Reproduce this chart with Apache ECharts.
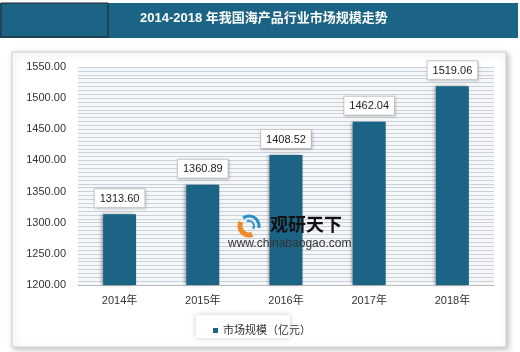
<!DOCTYPE html>
<html><head><meta charset="utf-8">
<script src="https://cdn.jsdelivr.net/npm/echarts@6/dist/echarts.min.js"></script>
<style>html,body{margin:0;padding:0;background:#fff}#c{width:520px;height:352px}</style>
</head><body><div id="c"></div>
<script>
var categories = ['2014年','2015年','2016年','2017年','2018年'];
var values = [1313.60, 1360.89, 1408.52, 1462.04, 1519.06];
var seriesName = '市场规模（亿元）';
var titleText = '2014-2018 年我国海产品行业市场规模走势';

var chart = echarts.init(document.getElementById('c'));
var font = '"Liberation Sans", "Noto Sans CJK SC", sans-serif';
chart.setOption({
  animation: false,
  backgroundColor: '#fff',
  graphic: [
    {type:'rect', shape:{x:0,y:3,width:518,height:35}, style:{fill:'#1b6485'}, z:0},
    {type:'rect', shape:{x:1,y:3,width:107,height:34}, style:{fill:'none',stroke:'#222',lineWidth:1}, z:1},
    {type:'rect', shape:{x:12,y:52,width:494,height:295}, style:{fill:'#fff',stroke:'#d0d0d0',lineWidth:1,shadowBlur:6,shadowColor:'rgba(0,0,0,0.25)',shadowOffsetX:2,shadowOffsetY:2}, z:-10},
    {type:'rect', shape:{x:78,y:67,width:416,height:218}, style:{fill:'#f5f7f9'}, z:-5},
    {type:'text', left:260-120, top:12, style:{text:titleText, fill:'#fff', font:'bold 13px "Liberation Sans","Noto Sans CJK SC",sans-serif'}, z:5},
    {type:'rect', shape:{x:196,y:315,width:94,height:23}, style:{fill:'#fff',shadowBlur:6,shadowColor:'rgba(0,0,0,0.2)'}, z:-1},
    {type:'text', left:270, top:215, style:{text:'观研天下', fill:'#111', font:'bold 18px "Noto Sans CJK SC",sans-serif'}, z:10},
    {type:'text', left:228, top:238, style:{text:'www.chinabaogao.com', fill:'#333', font:'12px "Liberation Sans",sans-serif'}, z:10},
    {type:'arc', shape:{cx:249,cy:226,r:9,startAngle:1.2,endAngle:3.6}, style:{fill:'none',stroke:'#f08a24',lineWidth:5}, z:10},
    {type:'arc', shape:{cx:249,cy:226,r:10,startAngle:-2.2,endAngle:0.2}, style:{fill:'none',stroke:'#2a8fc8',lineWidth:3}, z:10},
    {type:'arc', shape:{cx:249,cy:226,r:5,startAngle:-2.0,endAngle:0.6}, style:{fill:'none',stroke:'#2a8fc8',lineWidth:2}, z:10}
  ],
  grid: {left:78, right:26, top:67, bottom:67},
  legend: {
    data:[seriesName], left:208, top:320, itemWidth:5, itemHeight:5, itemGap:4,
    icon:'rect', textStyle:{fontSize:11, color:'#333', fontFamily:font}
  },
  xAxis: {
    type:'category', data:categories,
    axisLine:{show:true, lineStyle:{color:'#bbb'}}, axisTick:{show:false},
    axisLabel:{color:'#333', fontSize:11, margin:10, fontFamily:font}
  },
  yAxis: {
    type:'value', min:1200, max:1550, interval:50,
    axisLine:{show:false}, axisTick:{show:false},
    axisLabel:{color:'#333', fontSize:11, margin:12, fontFamily:font, formatter:function(v){return v.toFixed(2);}},
    splitLine:{show:true, lineStyle:{color:'#c9d2da', width:1}},
    minorTick:{show:false, splitNumber:8},
    minorSplitLine:{show:true, lineStyle:{color:'#c9d2da', width:1}}
  },
  series: [{
    name: seriesName, type:'bar', data: values, barWidth:33,
    itemStyle:{color:'#1b6485', shadowColor:'rgba(0,0,0,0.35)', shadowBlur:3, shadowOffsetX:-2},
    label:{show:true, position:'top', distance:7, color:'#222', fontSize:11, fontFamily:font,
      formatter:function(p){return p.value.toFixed(2);},
      backgroundColor:'#fff', borderColor:'#c8c8c8', borderWidth:1, padding:[4,5,3,5],
      shadowColor:'rgba(0,0,0,0.15)', shadowBlur:3, shadowOffsetX:1, shadowOffsetY:1}
  }]
});
</script></body></html>
